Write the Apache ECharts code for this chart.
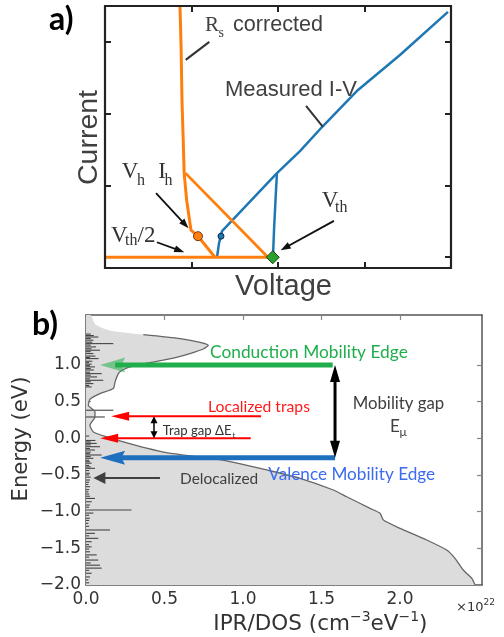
<!DOCTYPE html>
<html><head><meta charset="utf-8">
<script src="https://cdn.jsdelivr.net/npm/echarts@6/dist/echarts.min.js"></script>
<style>html,body{margin:0;padding:0;background:#fff}#c{width:504px;height:637px}</style>
</head><body><div id="c"></div>
<script>
// ===== Panel a data (arbitrary units: voltage, current) =====
const blueReturnV = [1.295, 1.318, 1.353, 1.561, 1.988, 2.254, 2.509, 2.925, 3.410, 3.965];
const blueReturnI = [0.000, 0.195, 0.363, 0.628, 1.172, 1.479, 1.814, 2.330, 2.818, 3.418];
const blueSnapV = [1.942, 1.954, 1.977, 1.988];
const blueSnapI = [0.000, 0.377, 0.935, 1.172];
const orangeFwdV = [0.000, 1.272, 1.884, 0.930];
const orangeFwdI = [0.000, 0.000, 0.000, 1.172];
const orangeRetV = [0.867, 0.880, 0.890, 0.905, 0.915, 0.944, 0.994, 1.075, 1.272];
const orangeRetI = [3.500, 2.900, 2.190, 1.600, 1.172, 0.795, 0.377, 0.293, 0.000];
const holdCorrV = [1.075], holdCorrI = [0.293];
const holdMeasV = [1.341], holdMeasI = [0.293];
const threshV = [1.939], threshI = [0.000];

// ===== Panel b data (DOS / IPR in 1e22 cm^-3 eV^-1, energy in eV) =====
const dosE = [1.68, 1.55, 1.47, 1.413, 1.359, 1.31, 1.268, 1.22, 1.154, 1.10, 1.064, 1.02, 0.973, 0.92, 0.881, 0.768, 0.677, 0.608, 0.532, 0.45, 0.36, 0.29, 0.177, 0.086, 0.018, -0.05, -0.136, -0.20, -0.25, -0.29, -0.341, -0.432, -0.546, -0.705, -0.797, -0.955, -1.023, -1.115, -1.228, -1.387, -1.524, -1.637, -1.797, -1.91, -2.0];
const dosVal = [0.03, 0.06, 0.15, 0.365, 0.599, 0.72, 0.779, 0.75, 0.662, 0.57, 0.49, 0.38, 0.28, 0.225, 0.206, 0.185, 0.174, 0.089, 0.025, 0.015, 0.057, 0.057, 0.025, 0.047, 0.132, 0.238, 0.386, 0.52, 0.70, 0.85, 0.97, 1.151, 1.363, 1.575, 1.66, 1.809, 1.873, 1.894, 2.0, 2.17, 2.297, 2.35, 2.403, 2.457, 2.478];
const iprE = [1.42, 1.40, 1.38, 1.36, 1.337, 1.31, 1.29, 1.27, 1.245, 1.22, 1.2, 1.18, 1.154, 1.12, 1.10, 1.086, 1.05, 1.03, 1.01, 0.99, 0.973, 0.95, 0.93, 0.90, 0.881, 0.86, 0.836, 0.81, 0.79, 0.77, 0.745, 0.72, 0.70, 0.382, 0.29,
  0.03, -0.03, -0.05, -0.07, -0.09, -0.115, -0.14, -0.16, -0.19, -0.21, -0.228, -0.25, -0.273, -0.30, -0.32, -0.34, -0.37, -0.39, -0.41, -0.44, -0.477, -0.50, -0.53, -0.569, -0.60, -0.63, -0.66, -0.70, -0.73, -0.76, -0.79, -0.82, -0.865, -0.91, -0.94, -0.978, -1.02, -1.05, -1.09, -1.12, -1.16, -1.2, -1.25, -1.296, -1.33, -1.364, -1.41, -1.45, -1.48, -1.51, -1.547, -1.59, -1.62, -1.66, -1.70, -1.73, -1.77, -1.80, -1.84, -1.89, -1.93, -1.97];
const iprVal = [0.03, 0.05, 0.078, 0.03, 0.047, 0.04, 0.174, 0.03, 0.064, 0.035, 0.089, 0.03, 0.047, 0.06, 0.025, 0.08, 0.04, 0.02, 0.036, 0.025, 0.057, 0.03, 0.05, 0.025, 0.10, 0.03, 0.07, 0.025, 0.11, 0.03, 0.047, 0.02, 0.036, 0.174, 0.12,
  0.02, 0.06, 0.03, 0.068, 0.03, 0.089, 0.025, 0.057, 0.03, 0.025, 0.10, 0.03, 0.047, 0.02, 0.025, 0.036, 0.02, 0.03, 0.057, 0.02, 0.025, 0.02, 0.03, 0.025, 0.02, 0.015, 0.025, 0.02, 0.015, 0.02, 0.025, 0.057, 0.036, 0.025, 0.02, 0.29, 0.047, 0.02, 0.025, 0.02, 0.015, 0.02, 0.153, 0.057, 0.02, 0.078, 0.036, 0.02, 0.036, 0.02, 0.025, 0.068, 0.02, 0.078, 0.03, 0.089, 0.10, 0.02, 0.036, 0.025, 0.015, 0.02];
const xTicksB = [0, 0.5, 1.0, 1.5, 2.0];
const yTicksB = [-2.0, -1.5, -1.0, -0.5, 0.0, 0.5, 1.0];
const yTicksA = [0, 1, 2, 3];
const xTicksA = [1, 2, 3];
const extentA = {xMin:0, xMax:4, yMin:-0.15, yMax:3.5};
const extentB = {xMin:0, xMax:2.522, yMin:-2, yMax:1.68};

// ===== annotation arrows (x1,y1 -> x2,y2 in data units) =====
const arrowsA = [[0.590, 0.893, 0.966, 0.404], [0.600, 0.209, 0.916, 0.070], [2.647, 0.507, 2.031, 0.098], [0.933, 2.750, 1.206, 3.000], [2.324, 2.107, 2.517, 1.818]];
const arrowsAStyle = [
  {color:'#111', lw:1.8, hl:10, hw:7, end:true},
  {color:'#111', lw:1.8, hl:10, hw:7, end:true},
  {color:'#111', lw:1.8, hl:10, hw:7, end:true},
  {color:'#333', lw:2, hl:0, hw:0},
  {color:'#333', lw:2, hl:0, hw:0}
];
const arrowsB = [[1.571, 1.0, 0.09, 1.0], [1.586, -0.265, 0.09, -0.265], [1.586, 1.0, 1.586, -0.265], [1.115, 0.30, 0.16, 0.30], [1.049, 0.0, 0.09, 0.0], [0.433, 0.30, 0.433, 0.0], [0.471, -0.54, 0.047, -0.54]];
const arrowsBStyle = [
  {color:'#1fae4b', lw:5, hl:25, hw:15, notch:0.15, end:true, headOpacity:0.55},
  {color:'#1f6fbf', lw:5, hl:25, hw:14, notch:0.15, end:true},
  {color:'#000', lw:3, hl:17, hw:10, end:true, start:true},
  {color:'#ff0000', lw:2, hl:18, hw:9, end:true},
  {color:'#ff0000', lw:2, hl:18, hw:9, end:true},
  {color:'#000', lw:1.5, hl:7, hw:7, end:true, start:true},
  {color:'#404040', lw:2, hl:12, hw:12, end:true}
];

function zip(a, b) { return a.map((v, i) => [v, b[i]]); }

function arrowRenderer(styles) {
  return function (params, api) {
    const s = styles[params.dataIndex];
    const p1 = api.coord([api.value(0), api.value(1)]);
    const p2 = api.coord([api.value(2), api.value(3)]);
    const dx = p2[0] - p1[0], dy = p2[1] - p1[1];
    const len = Math.hypot(dx, dy) || 1;
    const ux = dx / len, uy = dy / len, nx = -uy, ny = ux;
    let a = p1.slice(), b = p2.slice();
    if (s.end) b = [p2[0] - ux * s.hl * 0.6, p2[1] - uy * s.hl * 0.6];
    if (s.start) a = [p1[0] + ux * s.hl * 0.6, p1[1] + uy * s.hl * 0.6];
    const children = [{type:'line', shape:{x1:a[0], y1:a[1], x2:b[0], y2:b[1]}, style:{stroke:s.color, lineWidth:s.lw}}];
    function head(tip, vx, vy) {
      const bx = tip[0] - vx * s.hl, by = tip[1] - vy * s.hl;
      const n = s.notch || 0;
      return {type:'polygon', shape:{points:[
        tip, [bx + nx * s.hw / 2, by + ny * s.hw / 2],
        [tip[0] - vx * s.hl * (1 - n), tip[1] - vy * s.hl * (1 - n)],
        [bx - nx * s.hw / 2, by - ny * s.hw / 2]]},
        style:{fill:s.color, opacity: s.headOpacity == null ? 1 : s.headOpacity}};
    }
    if (s.end) children.push(head(p2, ux, uy));
    if (s.start) children.push(head(p1, -ux, -uy));
    return {type:'group', children};
  };
}
// frame of a panel drawn from the axis extents through the scales
function frameRenderer(ext, color, width) {
  return function (params, api) {
    if (params.dataIndex !== 0) return null;
    const tl = api.coord([ext.xMin, ext.yMax]);
    const br = api.coord([ext.xMax, ext.yMin]);
    return {type:'rect', shape:{x:tl[0], y:tl[1], width:br[0] - tl[0], height:br[1] - tl[1]}, style:{fill:'none', stroke:color, lineWidth:width}};
  };
}

// ===== text helpers =====
const mctx = document.createElement('canvas').getContext('2d');
function fontStr(size, family, weight) { return (weight || 'normal') + ' ' + size + 'px "' + family + '"'; }
function mw(text, size, family, weight) { mctx.font = fontStr(size, family, weight); return mctx.measureText(text).width; }
function fit(text, family, w, weight) { return 20 * w / mw(text, 20, family, weight); }
const K = {'Lato':0.387, 'Liberation Sans':0.3465, 'Liberation Serif':0.3375, 'DejaVu Sans':0.346};
function T(left, base, text, size, family, fill, weight, align, rot) {
  const el = {type:'text', x:left, y:base - K[family] * size, silent:true, z:100,
    style:{text:text, font:fontStr(size, family, weight), fill:fill,
      textAlign:align || 'left', textVerticalAlign:'middle', align:align || 'left', verticalAlign:'middle'}};
  if (rot) { el.rotation = rot; el.x = left; el.y = base; }
  return el;
}
function seq(left, base, parts) {
  let x = left; const out = [];
  parts.forEach(p => {
    out.push(T(x, base - (p.up || 0), p.t, p.size, p.family, p.fill, p.weight));
    x += mw(p.t, p.size, p.family, p.weight);
  });
  return out;
}

const graphics = [];
// Panel a texts
graphics.push(T(49, 32, 'a)', 32, 'Lato', '#000', 'bold'));
graphics.push(T(205, 33, 'R', 21, 'Liberation Serif', '#404040'));
graphics.push(T(218.5, 38, 's', 14, 'Liberation Serif', '#404040'));
graphics.push(T(233, 33, 'corrected', fit('corrected', 'Liberation Sans', 90), 'Liberation Sans', '#404040'));
graphics.push(T(225, 97.7, 'Measured I-V', fit('Measured I-V', 'Liberation Sans', 132), 'Liberation Sans', '#404040'));
graphics.push(T(121.7, 180, 'V', 23, 'Liberation Serif', '#333'));
graphics.push(T(137, 186.5, 'h', 16, 'Liberation Serif', '#333'));
graphics.push(T(158.3, 180, 'I', 23, 'Liberation Serif', '#333'));
graphics.push(T(164.5, 186.5, 'h', 16, 'Liberation Serif', '#333'));
graphics.push(T(111, 243.3, 'V', 23, 'Liberation Serif', '#333'));
graphics.push(T(125, 246.5, 'th', 16, 'Liberation Serif', '#333'));
graphics.push(T(137.5, 243.3, '/2', 23, 'Liberation Serif', '#333'));
graphics.push(T(321.7, 208.3, 'V', 23, 'Liberation Serif', '#333'));
graphics.push(T(335, 213, 'th', 16, 'Liberation Serif', '#333'));
graphics.push(T(283.5, 296.7, 'Voltage', fit('Voltage', 'Liberation Sans', 97), 'Liberation Sans', '#404040', 'normal', 'center'));
graphics.push(T(89, 137.5, 'Current', fit('Current', 'Liberation Sans', 95), 'Liberation Sans', '#404040', 'normal', 'center', Math.PI / 2));
// Panel b texts
graphics.push(T(32, 336.7, 'b)', 32, 'Lato', '#000', 'bold'));
graphics.push(T(210, 359.3, 'Conduction Mobility Edge', fit('Conduction Mobility Edge', 'Lato', 198), 'Lato', '#1fae4b'));
graphics.push(T(208, 413.3, 'Localized traps', fit('Localized traps', 'Lato', 102), 'Lato', '#ff1a1a'));
graphics.push(T(162.7, 436, 'Trap gap ΔE', fit('Trap gap ΔE', 'Lato', 69), 'Lato', '#333'));
graphics.push(T(232.5, 438.5, 't', 8, 'Lato', '#333'));
graphics.push(T(352.7, 410, 'Mobility gap', fit('Mobility gap', 'Lato', 91.6), 'Lato', '#404040'));
graphics.push(T(390, 432.7, 'E', 17, 'Lato', '#404040'));
graphics.push(T(399.5, 437, 'μ', 12, 'Lato', '#404040'));
graphics.push(T(180, 485, 'Delocalized', fit('Delocalized', 'Lato', 78.3), 'Lato', '#404040'));
graphics.push(T(268.3, 480.7, 'Valence Mobility Edge', fit('Valence Mobility Edge', 'Lato', 167), 'Lato', '#3c6cf0'));
graphics.push(T(21.8, 439, 'Energy (eV)', fit('Energy (eV)', 'DejaVu Sans', 125), 'DejaVu Sans', '#333', 'normal', 'center', Math.PI / 2));
seq(213.3, 631.7, [
  {t:'IPR/DOS (cm', size:21.5, family:'DejaVu Sans', fill:'#333'},
  {t:'−3', size:14, family:'DejaVu Sans', fill:'#333', up:9},
  {t:'eV', size:21.5, family:'DejaVu Sans', fill:'#333'},
  {t:'−1', size:14, family:'DejaVu Sans', fill:'#333', up:9},
  {t:')', size:21.5, family:'DejaVu Sans', fill:'#333'}
]).forEach(e => graphics.push(e));
seq(456, 611.7, [
  {t:'×10', size:13, family:'DejaVu Sans', fill:'#333'},
  {t:'22', size:9, family:'DejaVu Sans', fill:'#333', up:6}
]).forEach(e => graphics.push(e));

const minus = v => (v < 0 ? '−' : '') + Math.abs(v).toFixed(1);
const lineA = () => ({show:true, onZero:false, lineStyle:{color:'#222', width:2}});
const lineB = () => ({show:true, onZero:false, lineStyle:{color:'#555', width:1.5}});
const tickA = (vals) => ({show:true, inside:true, length:6, customValues:vals, lineStyle:{color:'#222', width:2}});
const tickB = (vals) => ({show:true, inside:true, length:5, customValues:vals, lineStyle:{color:'#888', width:1.2}});

const option = {
  animation:false,
  backgroundColor:'#fff',
  grid:[
    {left:105, top:6, width:346, height:262, show:false},
    {left:86, top:315, width:396, height:270, show:false}
  ],
  xAxis:[
    {gridIndex:0, type:'value', min:extentA.xMin, max:extentA.xMax, axisLine:lineA(), axisTick:tickA(xTicksA), axisLabel:{show:false}, splitLine:{show:false}},
    {gridIndex:0, type:'value', position:'top', min:extentA.xMin, max:extentA.xMax, axisLine:lineA(), axisTick:tickA(xTicksA), axisLabel:{show:false}, splitLine:{show:false}},
    {gridIndex:1, type:'value', min:extentB.xMin, max:extentB.xMax, axisLine:lineB(), axisTick:tickB(xTicksB),
      axisLabel:{show:true, customValues:xTicksB, formatter:v => minus(v), fontFamily:'DejaVu Sans', fontSize:17, color:'#333', margin:6}, splitLine:{show:false}},
    {gridIndex:1, type:'value', position:'top', min:extentB.xMin, max:extentB.xMax, axisLine:lineB(), axisTick:tickB(xTicksB), axisLabel:{show:false}, splitLine:{show:false}}
  ],
  yAxis:[
    {gridIndex:0, type:'value', min:extentA.yMin, max:extentA.yMax, axisLine:lineA(), axisTick:tickA(yTicksA), axisLabel:{show:false}, splitLine:{show:false}},
    {gridIndex:0, type:'value', position:'right', min:extentA.yMin, max:extentA.yMax, axisLine:lineA(), axisTick:tickA(yTicksA), axisLabel:{show:false}, splitLine:{show:false}},
    {gridIndex:1, type:'value', min:extentB.yMin, max:extentB.yMax, axisLine:lineB(), axisTick:tickB(yTicksB),
      axisLabel:{show:true, customValues:yTicksB, formatter:v => minus(v), fontFamily:'DejaVu Sans', fontSize:17, color:'#333', margin:5}, splitLine:{show:false}},
    {gridIndex:1, type:'value', position:'right', min:extentB.yMin, max:extentB.yMax, axisLine:lineB(), axisTick:tickB(yTicksB), axisLabel:{show:false}, splitLine:{show:false}}
  ],
  series:[
    {type:'custom', xAxisIndex:0, yAxisIndex:0, data:[[0, 0]], renderItem:frameRenderer(extentA, '#222', 2.2), clip:false, z:10, silent:true},
    {type:'line', xAxisIndex:0, yAxisIndex:0, data:zip(blueReturnV, blueReturnI), showSymbol:false, symbol:'none', lineStyle:{color:'#1f77b4', width:2.5}, z:2},
    {type:'line', xAxisIndex:0, yAxisIndex:0, data:zip(blueSnapV, blueSnapI), showSymbol:false, symbol:'none', lineStyle:{color:'#1f77b4', width:2.5}, z:2},
    {type:'line', xAxisIndex:0, yAxisIndex:0, data:zip(orangeFwdV, orangeFwdI), showSymbol:false, symbol:'none', lineStyle:{color:'#ff7f0e', width:2.8}, z:3},
    {type:'line', xAxisIndex:0, yAxisIndex:0, data:zip(orangeRetV, orangeRetI), showSymbol:false, symbol:'none', lineStyle:{color:'#ff7f0e', width:3}, z:3},
    {type:'scatter', xAxisIndex:0, yAxisIndex:0, data:zip(holdCorrV, holdCorrI), symbol:'circle', symbolSize:9, itemStyle:{color:'#ff7f0e', borderColor:'#6b3a10', borderWidth:1, opacity:1}, z:5},
    {type:'scatter', xAxisIndex:0, yAxisIndex:0, data:zip(holdMeasV, holdMeasI), symbol:'circle', symbolSize:6, itemStyle:{color:'#1f77b4', borderColor:'#0b2b45', borderWidth:1, opacity:1}, z:5},
    {type:'scatter', xAxisIndex:0, yAxisIndex:0, data:zip(threshV, threshI), symbol:'diamond', symbolSize:13, itemStyle:{color:'#2ca02c', borderColor:'#163d16', borderWidth:1, opacity:1}, z:6},
    {type:'custom', xAxisIndex:0, yAxisIndex:0, data:arrowsA, renderItem:arrowRenderer(arrowsAStyle), clip:false, z:7, silent:true},

    {type:'custom', xAxisIndex:2, yAxisIndex:2, data:zip(dosVal, dosE), clip:true, z:1, silent:true,
      renderItem:function (params, api) {
        if (params.dataIndex !== 0) return null;
        const pts = [api.coord([0, dosE[0]])];
        for (let i = 0; i < dosE.length; i++) pts.push(api.coord([dosVal[i], dosE[i]]));
        pts.push(api.coord([0, dosE[dosE.length - 1]]));
        return {type:'polygon', shape:{points:pts, smooth:0.2}, style:{fill:'#dcdcdc'}};
      }},
    {type:'custom', xAxisIndex:2, yAxisIndex:2, data:zip(iprVal, iprE), clip:true, z:2, silent:true,
      renderItem:function (params, api) {
        const a = api.coord([0, api.value(1)]);
        const b = api.coord([api.value(0), api.value(1)]);
        return {type:'line', shape:{x1:a[0], y1:a[1], x2:b[0], y2:b[1]}, style:{stroke:'#444', lineWidth:1.1}};
      }},
    {type:'line', xAxisIndex:2, yAxisIndex:2, data:zip(dosVal.slice(3), dosE.slice(3)), showSymbol:false, symbol:'none', smooth:0.2, lineStyle:{color:'#666', width:1.3}, z:3},
    {type:'custom', xAxisIndex:2, yAxisIndex:2, data:arrowsB, renderItem:arrowRenderer(arrowsBStyle), clip:false, z:7, silent:true}
  ],
  graphic:graphics
};
const chart = echarts.init(document.getElementById('c'));
chart.setOption(option);
</script></body></html>
